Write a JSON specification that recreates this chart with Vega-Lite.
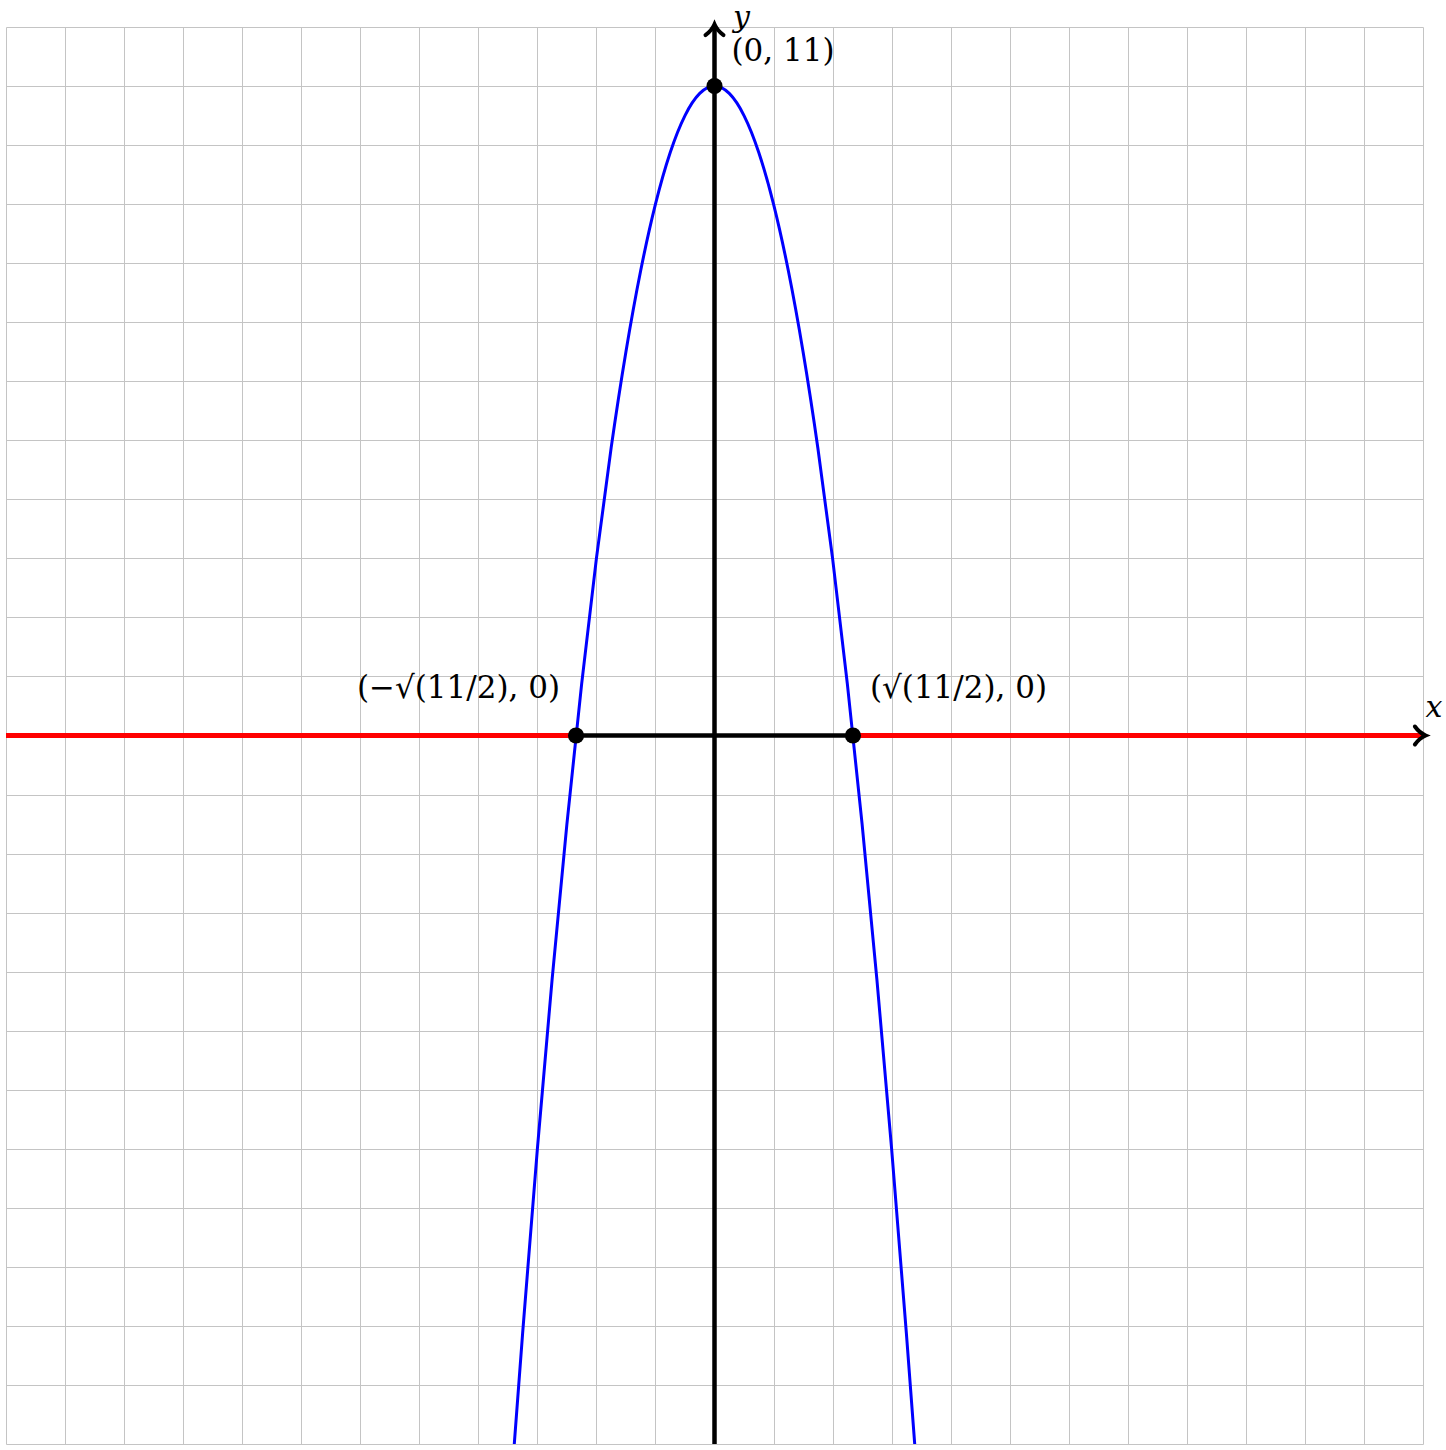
{
  "$schema": "https://vega.github.io/schema/vega-lite/v6.json",
  "autosize": {"type": "none"},
  "width": 1417,
  "height": 1417,
  "padding": {"left": 6, "top": 27, "right": 23, "bottom": 6},
  "background": "white",
  "config": {"view": {"stroke": null}},
  "datasets": {
    "curve": [
      {"x": -3.391, "y": -12.0}, {"x": -3.25, "y": -10.125}, {"x": -3.0, "y": -7.0}, {"x": -2.75, "y": -4.125},
      {"x": -2.5, "y": -1.5}, {"x": -2.25, "y": 0.875}, {"x": -2.0, "y": 3.0}, {"x": -1.75, "y": 4.875},
      {"x": -1.5, "y": 6.5}, {"x": -1.25, "y": 7.875}, {"x": -1.0, "y": 9.0}, {"x": -0.75, "y": 9.875},
      {"x": -0.5, "y": 10.5}, {"x": -0.25, "y": 10.875}, {"x": 0.0, "y": 11.0}, {"x": 0.25, "y": 10.875},
      {"x": 0.5, "y": 10.5}, {"x": 0.75, "y": 9.875}, {"x": 1.0, "y": 9.0}, {"x": 1.25, "y": 7.875},
      {"x": 1.5, "y": 6.5}, {"x": 1.75, "y": 4.875}, {"x": 2.0, "y": 3.0}, {"x": 2.25, "y": 0.875},
      {"x": 2.5, "y": -1.5}, {"x": 2.75, "y": -4.125}, {"x": 3.0, "y": -7.0}, {"x": 3.25, "y": -10.125},
      {"x": 3.391, "y": -12.0}
    ],
    "red": [
      {"x": -12, "y": 0, "x2": -2.345, "y2": 0},
      {"x": 2.345, "y": 0, "x2": 12, "y2": 0}
    ],
    "black": [
      {"x": -2.345, "y": 0, "x2": 2.345, "y2": 0},
      {"x": 0, "y": -12, "x2": 0, "y2": 12}
    ],
    "points": [
      {"x": 0, "y": 11},
      {"x": -2.345, "y": 0},
      {"x": 2.345, "y": 0}
    ]
  },
  "layer": [
    {
      "data": {"name": "red"},
      "mark": {"type": "rule", "color": "#ff0000", "strokeWidth": 5},
      "encoding": {
        "x": {"field": "x", "type": "quantitative", "scale": {"domain": [-12, 12], "nice": false, "zero": false},
              "axis": {"values": [-12,-11,-10,-9,-8,-7,-6,-5,-4,-3,-2,-1,0,1,2,3,4,5,6,7,8,9,10,11,12], "grid": true, "gridColor": "#c4c4c4", "gridWidth": 1, "labels": false, "ticks": false, "domain": false, "title": null}},
        "y": {"field": "y", "type": "quantitative", "scale": {"domain": [-12, 12], "nice": false, "zero": false},
              "axis": {"values": [-12,-11,-10,-9,-8,-7,-6,-5,-4,-3,-2,-1,0,1,2,3,4,5,6,7,8,9,10,11,12], "grid": true, "gridColor": "#c4c4c4", "gridWidth": 1, "labels": false, "ticks": false, "domain": false, "title": null}},
        "x2": {"field": "x2"},
        "y2": {"field": "y2"}
      }
    },
    {
      "data": {"name": "black"},
      "mark": {"type": "rule", "color": "#000000", "strokeWidth": 4.5},
      "encoding": {
        "x": {"field": "x", "type": "quantitative"},
        "y": {"field": "y", "type": "quantitative"},
        "x2": {"field": "x2"},
        "y2": {"field": "y2"}
      }
    },
    {
      "data": {"name": "curve"},
      "mark": {"type": "line", "color": "#0000ff", "strokeWidth": 3, "interpolate": "monotone", "clip": true},
      "encoding": {
        "x": {"field": "x", "type": "quantitative"},
        "y": {"field": "y", "type": "quantitative"}
      }
    },
    {
      "data": {"name": "points"},
      "mark": {"type": "point", "filled": true, "color": "#000000", "size": 260, "opacity": 1},
      "encoding": {
        "x": {"field": "x", "type": "quantitative"},
        "y": {"field": "y", "type": "quantitative"}
      }
    },
    {
      "data": {"values": [{"x": 12, "y": 0}]},
      "mark": {"type": "point", "shape": "M-0.9,-1 Q-0.4,-0.3 0.3,0 Q-0.4,0.3 -0.9,1", "filled": false, "stroke": "#000000", "strokeWidth": 4, "size": 324, "opacity": 1, "strokeCap": "round"},
      "encoding": {
        "x": {"field": "x", "type": "quantitative"},
        "y": {"field": "y", "type": "quantitative"}
      }
    },
    {
      "data": {"values": [{"x": 0, "y": 12}]},
      "mark": {"type": "point", "shape": "M-1,0.9 Q-0.3,0.4 0,-0.3 Q0.3,0.4 1,0.9", "filled": false, "stroke": "#000000", "strokeWidth": 4, "size": 324, "opacity": 1, "strokeCap": "round"},
      "encoding": {
        "x": {"field": "x", "type": "quantitative"},
        "y": {"field": "y", "type": "quantitative"}
      }
    },
    {
      "data": {"values": [{"x": 0, "y": 11, "label": "(0, 11)"}]},
      "mark": {"type": "text", "font": "DejaVu Serif", "fontSize": 31, "align": "left", "baseline": "middle", "dx": 17, "dy": -34, "color": "#000000"},
      "encoding": {
        "x": {"field": "x", "type": "quantitative"},
        "y": {"field": "y", "type": "quantitative"},
        "text": {"field": "label"}
      }
    },
    {
      "data": {"values": [{"x": 2.345, "y": 0, "label": "(√(11/2), 0)"}]},
      "mark": {"type": "text", "font": "DejaVu Serif", "fontSize": 31, "align": "left", "baseline": "middle", "dx": 17, "dy": -47, "color": "#000000"},
      "encoding": {
        "x": {"field": "x", "type": "quantitative"},
        "y": {"field": "y", "type": "quantitative"},
        "text": {"field": "label"}
      }
    },
    {
      "data": {"values": [{"x": -2.345, "y": 0, "label": "(−√(11/2), 0)"}]},
      "mark": {"type": "text", "font": "DejaVu Serif", "fontSize": 31, "align": "right", "baseline": "middle", "dx": -16, "dy": -47, "color": "#000000"},
      "encoding": {
        "x": {"field": "x", "type": "quantitative"},
        "y": {"field": "y", "type": "quantitative"},
        "text": {"field": "label"}
      }
    },
    {
      "data": {"values": [{"x": 12, "y": 0, "label": "x"}]},
      "mark": {"type": "text", "font": "DejaVu Serif", "fontStyle": "italic", "fontSize": 30, "align": "center", "baseline": "middle", "dx": 11, "dy": -28, "color": "#000000"},
      "encoding": {
        "x": {"field": "x", "type": "quantitative"},
        "y": {"field": "y", "type": "quantitative"},
        "text": {"field": "label"}
      }
    },
    {
      "data": {"values": [{"x": 0, "y": 12, "label": "y"}]},
      "mark": {"type": "text", "font": "DejaVu Serif", "fontStyle": "italic", "fontSize": 30, "align": "center", "baseline": "middle", "dx": 27, "dy": -9, "color": "#000000"},
      "encoding": {
        "x": {"field": "x", "type": "quantitative"},
        "y": {"field": "y", "type": "quantitative"},
        "text": {"field": "label"}
      }
    }
  ]
}
